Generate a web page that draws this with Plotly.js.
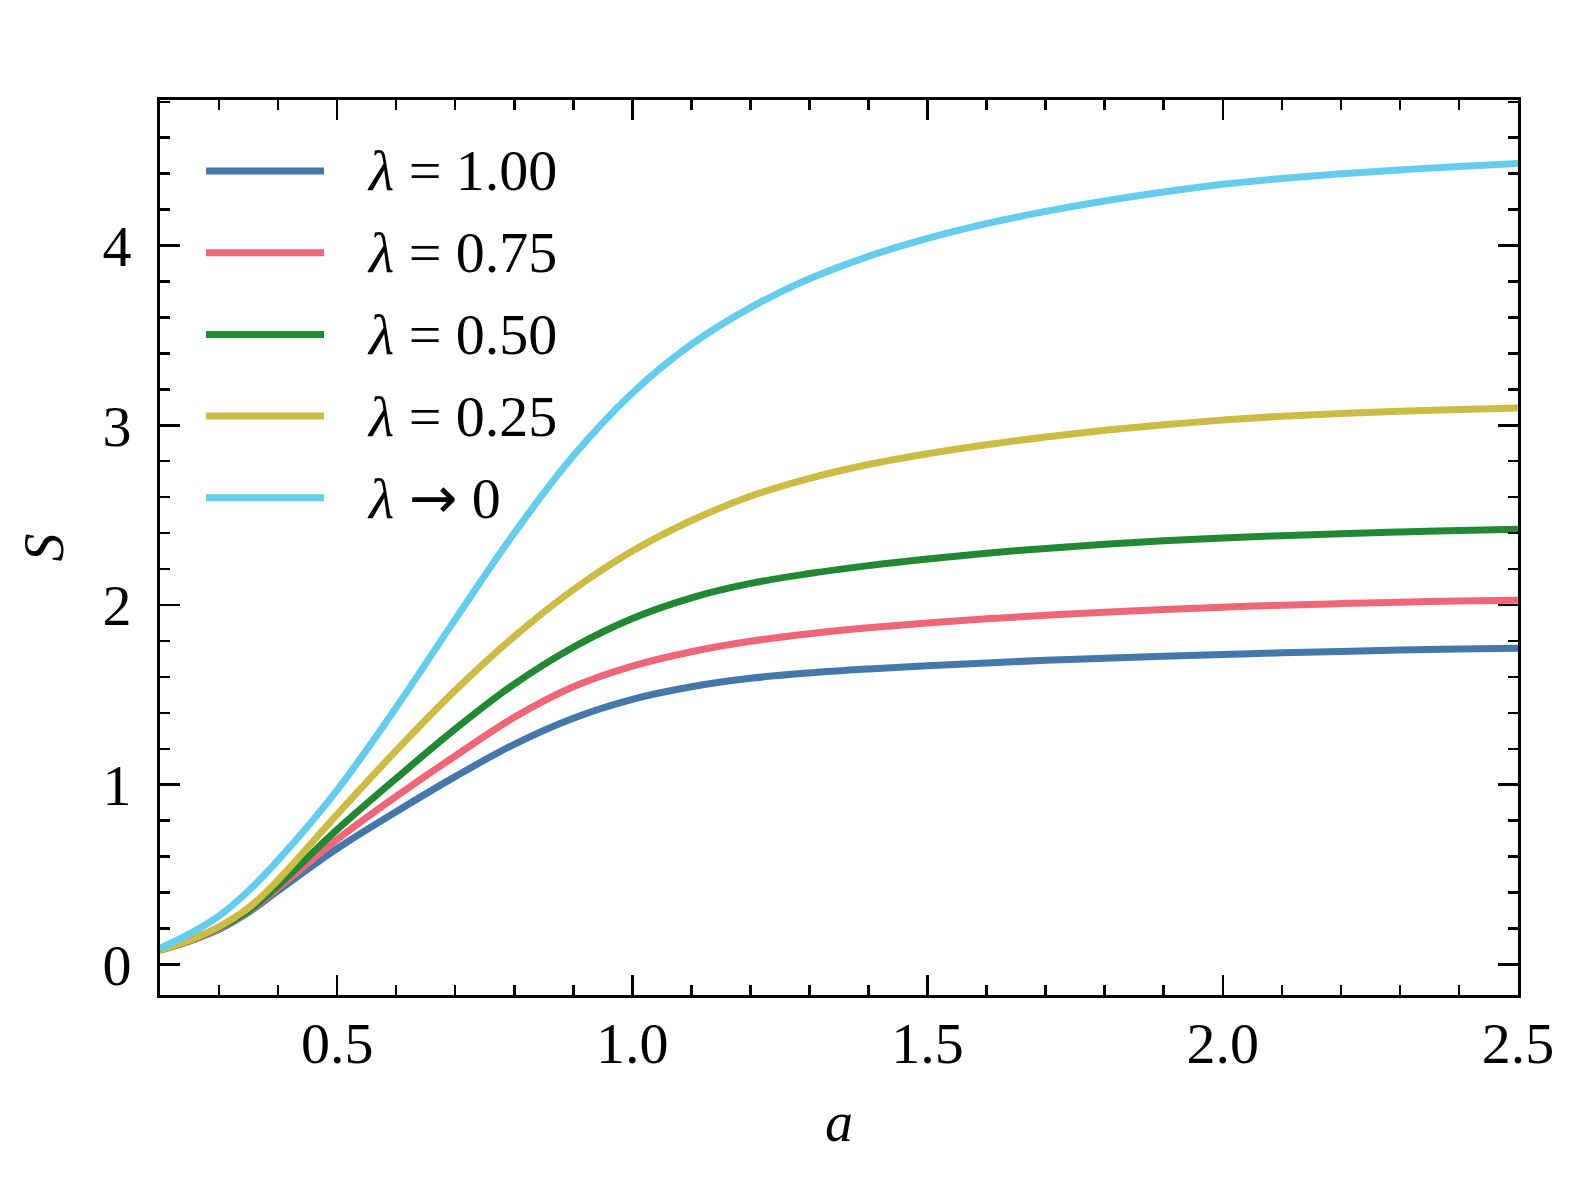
<!DOCTYPE html>
<html>
<head>
<meta charset="utf-8">
<script src="https://cdn.plot.ly/plotly-3.0.1.min.js"></script>
<style>html, body { margin: 0; padding: 0; background: #ffffff; }</style>
</head>
<body>
<div id="myDiv" style="width:1580px;height:1180px"></div>
<script>
// a values read along the x axis (denser where the curves bend at the start)
const aValues = [0.2, 0.25, 0.3, 0.35, 0.4, 0.5, 0.6, 0.7, 0.8, 0.9, 1.0, 1.1, 1.2, 1.3,
  1.4, 1.5, 1.6, 1.7, 1.8, 1.9, 2.0, 2.1, 2.2, 2.3, 2.4, 2.5]

// S(a), one list per lambda
const sLambda100 = [0.08, 0.13, 0.195, 0.29, 0.41, 0.645, 0.85, 1.045, 1.225, 1.37, 1.475, 1.545, 1.592, 1.622,
  1.644, 1.662, 1.678, 1.692, 1.704, 1.715, 1.725, 1.734, 1.742, 1.749, 1.755, 1.76]
const sLambda075 = [0.08, 0.13, 0.20, 0.295, 0.425, 0.695, 0.935, 1.16, 1.375, 1.545, 1.66, 1.74, 1.798, 1.84,
  1.873, 1.90, 1.923, 1.943, 1.96, 1.975, 1.988, 1.999, 2.008, 2.016, 2.022, 2.027]
const sLambda050 = [0.08, 0.135, 0.205, 0.30, 0.44, 0.75, 1.035, 1.31, 1.56, 1.765, 1.925, 2.04, 2.12, 2.175,
  2.219, 2.256, 2.288, 2.315, 2.338, 2.357, 2.373, 2.386, 2.397, 2.406, 2.414, 2.421]
const sLambda025 = [0.08, 0.135, 0.21, 0.315, 0.47, 0.835, 1.19, 1.525, 1.825, 2.085, 2.30, 2.47, 2.605, 2.705,
  2.782, 2.842, 2.892, 2.935, 2.972, 3.003, 3.029, 3.05, 3.066, 3.078, 3.088, 3.096]
const sLambda0 = [0.09, 0.17, 0.27, 0.41, 0.58, 0.97, 1.43, 1.92, 2.40, 2.83, 3.18, 3.45, 3.655, 3.815,
  3.94, 4.04, 4.122, 4.19, 4.248, 4.298, 4.341, 4.373, 4.399, 4.421, 4.44, 4.456]

const arrow = '<span style="font-family:DejaVu Sans">→</span>'
const seriesNames = ['<i>λ</i> = 1.00', '<i>λ</i> = 0.75', '<i>λ</i> = 0.50', '<i>λ</i> = 0.25', '<i>λ</i> ' + arrow + ' 0']
const seriesValues = [sLambda100, sLambda075, sLambda050, sLambda025, sLambda0]
const seriesColors = ['#4477aa', '#ee6677', '#228833', '#ccbb44', '#66ccee']

const serif = 'Liberation Serif, Times New Roman, serif'

const data = seriesValues.map((vals, i) => ({
  x: aValues,
  y: vals,
  type: 'scatter',
  mode: 'lines',
  name: seriesNames[i],
  line: { color: seriesColors[i], width: 7, shape: 'spline', smoothing: 1 },
  hoverinfo: 'skip',
}))

// legend drawn by hand so the sample lines can be long like the original
const shapes = []
const annotations = []
seriesNames.forEach((name, i) => {
  const yy = 0.9207 - i * 0.0913
  shapes.push({
    type: 'line', xref: 'paper', yref: 'paper',
    x0: 0.0339, x1: 0.1208, y0: yy, y1: yy,
    line: { color: seriesColors[i], width: 7 },
  })
  annotations.push({
    xref: 'paper', yref: 'paper', x: 0.151, y: yy,
    xanchor: 'left', yanchor: 'middle', showarrow: false,
    text: name, font: { family: serif, size: 58, color: '#000000' },
  })
})

const axisCommon = {
  showgrid: false,
  zeroline: false,
  showline: true,
  linecolor: '#000000',
  linewidth: 3,
  mirror: 'ticks',
  ticks: 'inside',
  ticklen: 20,
  tickwidth: 2.5,
  tickcolor: '#000000',
  tickfont: { family: serif, size: 58, color: '#000000' },
}

const layout = {
  width: 1580,
  height: 1180,
  paper_bgcolor: '#ffffff',
  plot_bgcolor: '#ffffff',
  margin: { l: 160, r: 62, t: 100, b: 185 },
  showlegend: false,
  xaxis: Object.assign({}, axisCommon, {
    range: [0.2, 2.5],
    tick0: 0,
    dtick: 0.5,
    tickformat: '.1f',
    ticklabelstandoff: -5,
    minor: { ticks: 'inside', dtick: 0.1, ticklen: 10, tickwidth: 2.5, tickcolor: '#000000' },
    title: { text: '<i>a</i>', font: { family: serif, size: 56, color: '#000000' }, standoff: 28 },
  }),
  yaxis: Object.assign({}, axisCommon, {
    range: [-0.17, 4.81],
    tick0: 0,
    dtick: 1,
    ticklabelstandoff: 14,
    minor: { ticks: 'inside', dtick: 0.2, ticklen: 10, tickwidth: 2.5, tickcolor: '#000000' },
    title: { text: '<i>S</i>', font: { family: serif, size: 56, color: '#000000' }, standoff: 21 },
  }),
  shapes: shapes,
  annotations: annotations,
}

Plotly.newPlot('myDiv', data, layout, { displaylogo: false, displayModeBar: false, staticPlot: true })
</script>
</body>
</html>
